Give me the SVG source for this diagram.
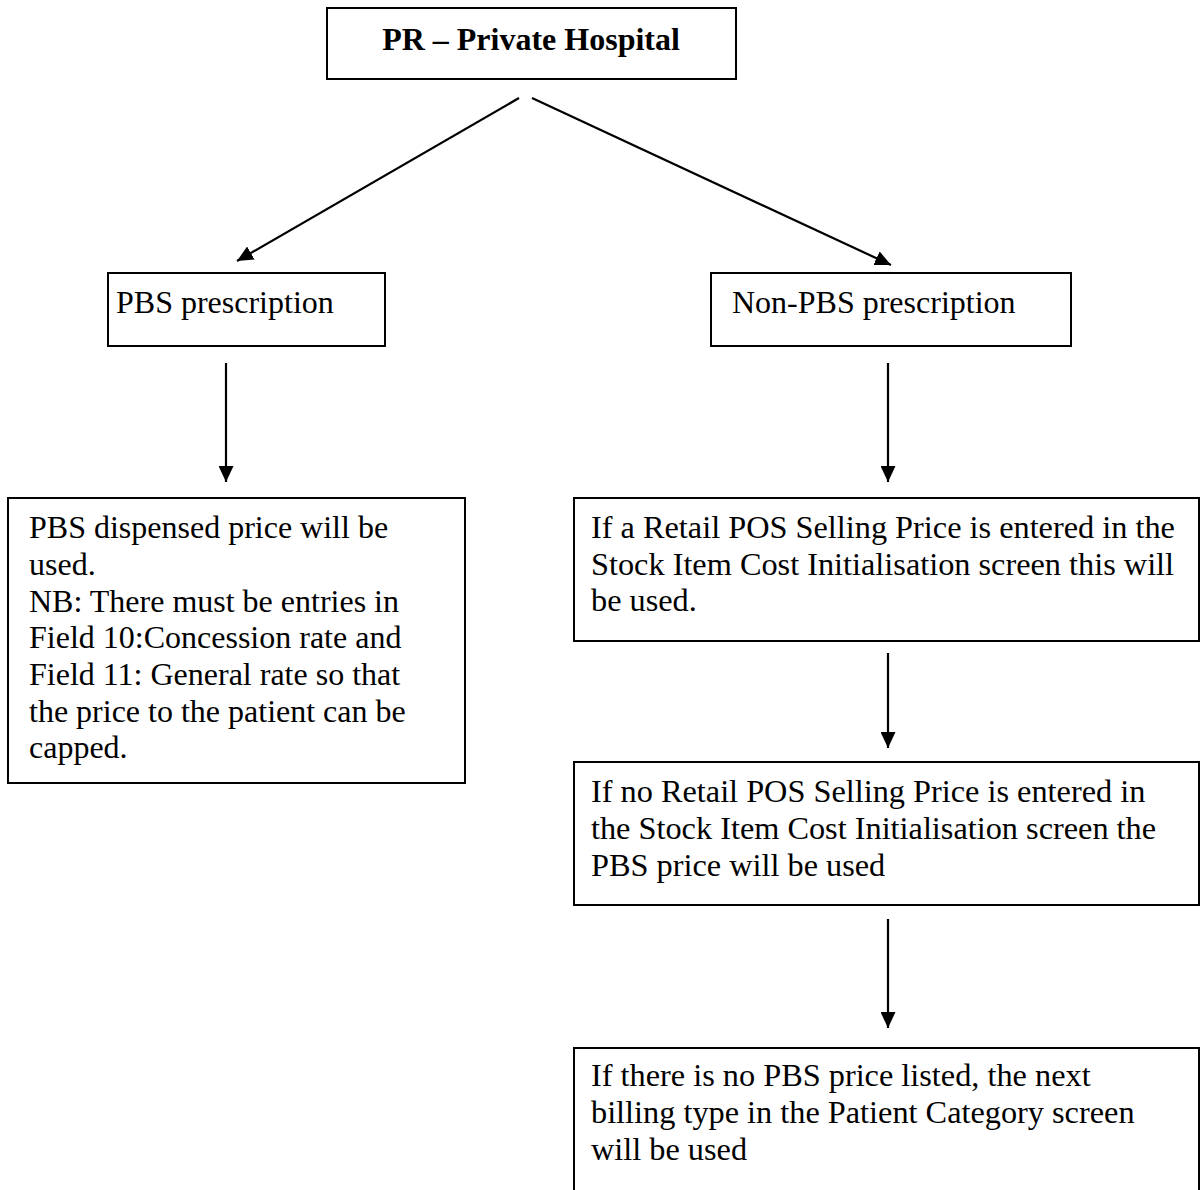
<svg xmlns="http://www.w3.org/2000/svg" width="1202" height="1190" viewBox="0 0 1202 1190">
  <style>
    .box { fill: #ffffff; stroke: #000000; stroke-width: 2; }
    .txt { font-family: "Liberation Serif", "Times New Roman", serif; font-size: 32px; fill: #000000; }
    .wide { font-size: 32.3px; }
    .title { font-weight: bold; }
    .link { stroke: #000000; stroke-width: 2.2; fill: none; marker-end: url(#arrow); }
  </style>
  <defs>
    <marker id="arrow" viewBox="0 0 16 15" refX="16" refY="7.5" markerWidth="16" markerHeight="15" markerUnits="userSpaceOnUse" orient="auto">
      <path d="M0,0 L16,7.5 L0,15 z" fill="#000000"/>
    </marker>
  </defs>
  <rect width="1202" height="1190" fill="#ffffff"/>

  <!-- connectors -->
  <g id="connectors">
    <line class="link" x1="519" y1="98" x2="237" y2="261"/>
    <line class="link" x1="532" y1="98" x2="891" y2="265"/>
    <line class="link" x1="226" y1="363" x2="226" y2="482"/>
    <line class="link" x1="888" y1="363" x2="888" y2="482"/>
    <line class="link" x1="888" y1="653" x2="888" y2="748"/>
    <line class="link" x1="888" y1="919" x2="888" y2="1028"/>
  </g>

  <g id="private-hospital">
    <rect class="box" x="327" y="8" width="409" height="71"/>
    <text class="txt title" x="531" y="50" text-anchor="middle">PR – Private Hospital</text>
  </g>

  <g id="pbs-prescription">
    <rect class="box" x="108" y="273" width="277" height="73"/>
    <text class="txt" x="116" y="313">PBS prescription</text>
  </g>

  <g id="non-pbs-prescription">
    <rect class="box" x="711" y="273" width="360" height="73"/>
    <text class="txt" x="732" y="313">Non-PBS prescription</text>
  </g>

  <g id="pbs-dispensed-price">
    <rect class="box" x="8" y="498" width="457" height="285"/>
    <text class="txt" x="29" y="538">
      <tspan x="29" y="538">PBS dispensed price will be</tspan>
      <tspan x="29" y="575">used.</tspan>
      <tspan x="29" y="612">NB: There must be entries in</tspan>
      <tspan x="29" y="648">Field 10:Concession rate and</tspan>
      <tspan x="29" y="685">Field 11: General rate so that</tspan>
      <tspan x="29" y="722">the price to the patient can be</tspan>
      <tspan x="29" y="758">capped.</tspan>
    </text>
  </g>

  <g id="retail-pos-price">
    <rect class="box" x="574" y="498" width="625" height="143"/>
    <text class="txt wide" x="591" y="538">
      <tspan x="591" y="538">If a Retail POS Selling Price is entered in the</tspan>
      <tspan x="591" y="575">Stock Item Cost Initialisation screen this will</tspan>
      <tspan x="591" y="611">be used.</tspan>
    </text>
  </g>

  <g id="pbs-price-fallback">
    <rect class="box" x="574" y="762" width="625" height="143"/>
    <text class="txt wide" x="591" y="802">
      <tspan x="591" y="802">If no Retail POS Selling Price is entered in</tspan>
      <tspan x="591" y="839">the Stock Item Cost Initialisation screen the</tspan>
      <tspan x="591" y="876">PBS price will be used</tspan>
    </text>
  </g>

  <g id="next-billing-type">
    <rect class="box" x="574" y="1048" width="625" height="160"/>
    <text class="txt wide" x="591" y="1086">
      <tspan x="591" y="1086">If there is no PBS price listed, the next</tspan>
      <tspan x="591" y="1123">billing type in the Patient Category screen</tspan>
      <tspan x="591" y="1160">will be used</tspan>
    </text>
  </g>
</svg>
